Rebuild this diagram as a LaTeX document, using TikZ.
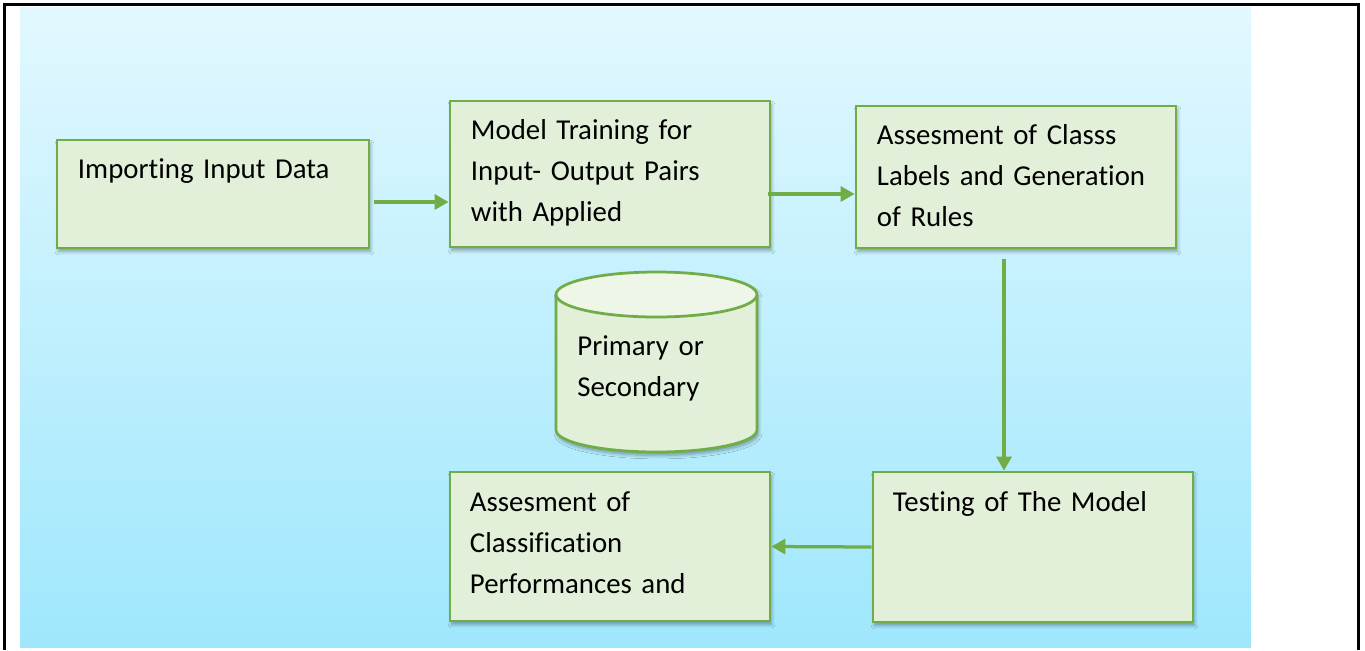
\documentclass[tikz,border=0pt]{standalone}
\usepackage{fontspec}
\setmainfont{Carlito}[Ligatures=NoCommon]
\usepackage{tikz}
\usetikzlibrary{arrows.meta}
\usetikzlibrary{calc}
\usetikzlibrary{shadows.blur}
\definecolor{edge}{HTML}{70AD47}
\definecolor{leaf}{HTML}{E2EFD9}
\definecolor{lid}{HTML}{EEF6E8}
\definecolor{skytop}{HTML}{E2F8FE}
\definecolor{skybot}{HTML}{9FE7FD}
\def\pxl{0.02cm}
\tikzstyle{shade box} = [blur shadow={shadow xshift=0.03cm,shadow yshift=-0.07cm,shadow opacity=35,shadow blur steps=6}]
\tikzstyle{stage} = [draw=edge,fill=leaf,line width=0.055cm,inner sep=0pt,shade box]
\tikzstyle{txt} = [anchor=base west,inner sep=0pt,align=left,text width=6cm,
  font=\fontsize{16.4}{23.4}\selectfont]
\tikzstyle{flow} = [draw=edge,line width=0.065cm,-{Triangle[length=0.28cm,width=0.3cm]}]

\begin{document}
\begin{tikzpicture}[x=\pxl,y=-\pxl]

% Frame and background
    \useasboundingbox (0,0) rectangle (1365,650);
    \shade[top color=skytop,bottom color=skybot] (20,7) rectangle (1251,647);
    \draw[line width=0.048cm] (4.5,650) -- (4.5,4.5) -- (1358.5,4.5) -- (1358.5,650);

% Draw blocks
    \node[stage,minimum width=312*\pxl,minimum height=108*\pxl] at (213,194) (import) {};
    \node[stage,minimum width=320*\pxl,minimum height=146*\pxl] at (610,174) (train) {};
    \node[stage,minimum width=320*\pxl,minimum height=142*\pxl] at (1016,177) (rules) {};
    \node[stage,minimum width=320*\pxl,minimum height=150*\pxl] at (1033,547) (test) {};
    \node[stage,minimum width=320*\pxl,minimum height=149*\pxl] at (610,546.5) (perf) {};

% Data store drum
    \coordinate (store) at (656.5,362);
    \fill[leaf,shade box] (556,294.5) -- (556,430)
        arc[start angle=180,end angle=360,x radius=2.01cm,y radius=0.44cm]
        -- (757,294.5) arc[start angle=0,end angle=180,x radius=2.01cm,y radius=0.45cm] -- cycle;
    \draw[edge,line width=0.055cm] (556,294.5) -- (556,430)
        arc[start angle=180,end angle=360,x radius=2.01cm,y radius=0.44cm] -- (757,294.5);
    \draw[edge,fill=lid,line width=0.055cm] (656.5,294.5) ellipse[x radius=2.01cm,y radius=0.45cm];

% Texts
    \node[txt] at ([shift={(22,40)}]import.north west) (importtxt) {Importing Input Data};
    \node[txt] at ([shift={(22,40)}]train.north west) (traintxt) {Model Training for\\Input- Output Pairs\\with Applied};
    \node[txt] at ([shift={(22,40)}]rules.north west) (rulestxt) {Assesment of Classs\\Labels and Generation\\of Rules};
    \node[txt] at ([shift={(21,41)}]test.north west) (testtxt) {Testing of The Model};
    \node[txt] at ([shift={(21,41)}]perf.north west) (perftxt) {Assesment of\\Classification\\Performances and};
    \node[txt] at ([shift={(-79.5,-7)}]store) (storetxt) {Primary or\\Secondary};

% Arrows
    \draw[flow] ([shift={(4,8)}]import.east) coordinate (a1) -- (a1 -| train.west);
    \draw[flow] ([shift={(-3,20)}]train.east) coordinate (a2) -- (a2 -| rules.west);
    \draw[flow] ([shift={(-12,10)}]rules.south) coordinate (a3) -- (a3 |- test.north);
    \draw[flow] (test.west) -- (perf.east);

\end{tikzpicture}
\end{document}
